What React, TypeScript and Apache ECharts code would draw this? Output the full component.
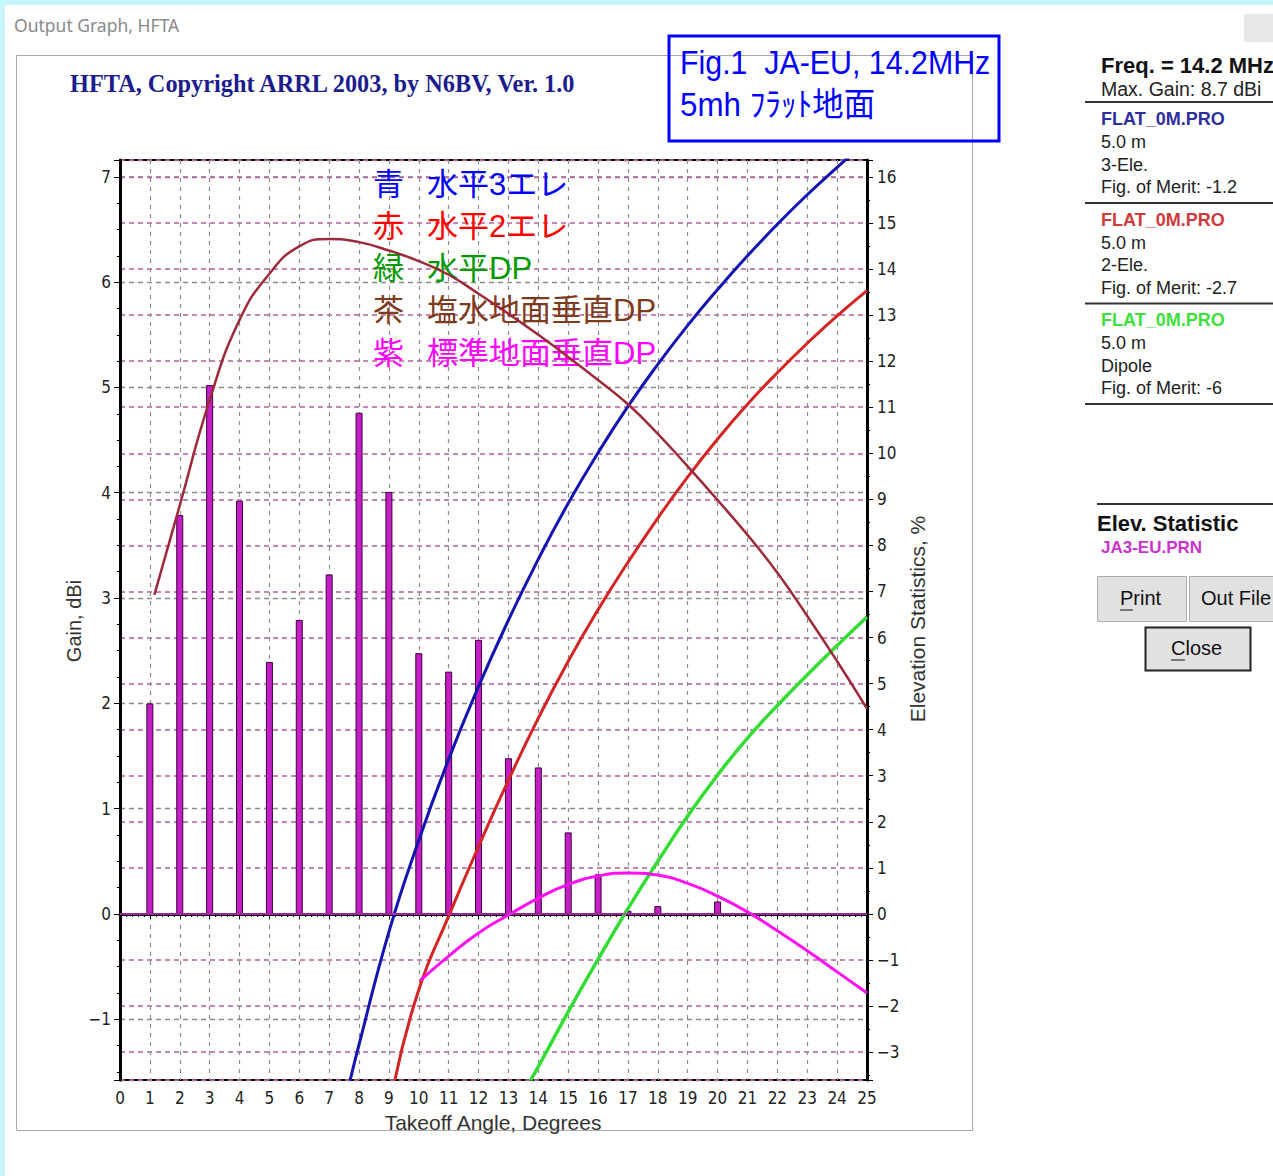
import React, { useEffect, useRef } from "react";
import * as echarts from "echarts";

// Elevation statistics (%), right axis
const statAngles = [1, 2, 3, 4, 5, 6, 7, 8, 9, 10, 11, 12, 13, 14, 15, 16, 17, 18, 19, 20];
const statPercent = [4.57, 8.66, 11.48, 8.97, 5.47, 6.38, 7.37, 10.88, 9.16, 5.66, 5.26, 5.95, 3.38, 3.18, 1.77, 0.86, 0.07, 0.17, 0, 0.27];

// Gain curves (dBi), left axis
const blueAngles = [7.7, 8, 9, 10, 11, 12, 13, 14, 15, 16, 17, 18, 19, 20, 21, 22, 23, 24, 24.6];
const blueGain = [-1.58, -1.24, -0.17, 0.7, 1.47, 2.16, 2.79, 3.37, 3.9, 4.38, 4.82, 5.22, 5.59, 5.93, 6.25, 6.55, 6.83, 7.09, 7.24];

const redAngles = [9.2, 10, 11, 12, 13, 14, 15, 16, 17, 18, 19, 20, 21, 22, 23, 24, 25];
const redGain = [-1.58, -0.72, -0.02, 0.64, 1.27, 1.86, 2.4, 2.89, 3.34, 3.76, 4.15, 4.51, 4.84, 5.14, 5.42, 5.68, 5.92];

const greenAngles = [13.74, 14, 15, 16, 17, 18, 19, 20, 21, 22, 23, 24, 25];
const greenGain = [-1.58, -1.45, -0.93, -0.43, 0.05, 0.5, 0.93, 1.32, 1.67, 1.98, 2.27, 2.55, 2.82];

const brownAngles = [1.15, 2, 3, 4, 5, 6, 7, 8, 9, 10, 11, 12, 13, 14, 15, 16, 17, 18, 19, 20, 21, 22, 23, 24, 25];
const brownGain = [3.03, 3.88, 4.88, 5.64, 6.08, 6.34, 6.41, 6.38, 6.3, 6.2, 6.07, 5.89, 5.7, 5.5, 5.29, 5.07, 4.84, 4.56, 4.25, 3.93, 3.6, 3.24, 2.83, 2.4, 1.95];

const magentaAngles = [10.05, 11, 12, 13, 14, 15, 16, 17, 18, 19, 20, 21, 22, 23, 24, 25];
const magentaGain = [-0.63, -0.4, -0.18, -0.01, 0.15, 0.28, 0.36, 0.39, 0.37, 0.29, 0.17, 0.02, -0.16, -0.35, -0.55, -0.75];

// Axis ranges
const angleRange = [0, 25];
const gainRange = [-1.577, 7.16];
const statRange = [-3.605, 16.366];

const legendRows = [
  { key: "青", label: "水平3エレ", color: "#0000ff" },
  { key: "赤", label: "水平2エレ", color: "#ff0000" },
  { key: "緑", label: "水平DP", color: "#009a00" },
  { key: "茶", label: "塩水地面垂直DP", color: "#7e3a1c" },
  { key: "紫", label: "標準地面垂直DP", color: "#ff00ff" },
];

const panelBlocks = [
  { file: "FLAT_0M.PRO", color: "#2e2e9e", lines: ["5.0 m", "3-Ele.", "Fig. of Merit: -1.2"] },
  { file: "FLAT_0M.PRO", color: "#d03a3a", lines: ["5.0 m", "2-Ele.", "Fig. of Merit: -2.7"] },
  { file: "FLAT_0M.PRO", color: "#3ee03e", lines: ["5.0 m", "Dipole", "Fig. of Merit: -6"] },
];

const NARROW = '"Liberation Sans Narrow", "DejaVu Sans Condensed", "Arial Narrow", sans-serif';
const SANS = '"Liberation Sans", Arial, sans-serif';
const MIXED = '"Liberation Sans", "Noto Sans CJK JP", sans-serif';

const pairs = (xs: number[], ys: number[]) => xs.map((x, i) => [x, ys[i]]);

const intLabel = (v: number) => {
  const r = Math.round(v);
  if (Math.abs(v - r) > 1e-6) return "";
  return r < 0 ? "\u2212" + -r : String(r);
};

function buildGraphic() {
  const g: any[] = [];
  // window edges
  g.push({ type: "rect", shape: { x: 0, y: 0, width: 1273, height: 5 }, style: { fill: "#c8f7fb" } });
  g.push({ type: "rect", shape: { x: 0, y: 0, width: 5, height: 1176 }, style: { fill: "#c8f7fb" } });
  g.push({ type: "text", x: 14, y: 25, style: { text: "Output Graph, HFTA", fill: "#8a8a8a", font: '17.5px "Noto Sans", sans-serif', textAlign: "left", textVerticalAlign: "middle" } });
  g.push({ type: "rect", shape: { x: 1244, y: 14, width: 30, height: 28 }, style: { fill: "#e8e8e8" } });
  // chart frame
  g.push({ type: "rect", shape: { x: 16.5, y: 55.5, width: 956, height: 1075 }, style: { fill: "none", stroke: "#a8a8a8", lineWidth: 1 } });
  // header
  g.push({ type: "text", x: 70, y: 83, style: { text: "HFTA, Copyright ARRL 2003, by N6BV, Ver. 1.0", fill: "#1c1c8c", font: 'bold 24.3px "Liberation Serif", "Times New Roman", serif', textAlign: "left", textVerticalAlign: "middle" } });
  // blue box
  g.push({ type: "rect", shape: { x: 669, y: 36, width: 330, height: 105 }, style: { fill: "none", stroke: "#0000ff", lineWidth: 3 } });
  g.push({ type: "text", x: 680, y: 63, scaleX: 0.92, style: { text: "Fig.1\u00a0\u00a0JA-EU, 14.2MHz", fill: "#0000ff", font: `33px ${SANS}`, textAlign: "left", textVerticalAlign: "middle" } });
  g.push({ type: "text", x: 680, y: 105, scaleX: 0.95, style: { text: "5mh ﾌﾗｯﾄ地面", fill: "#0000ff", font: `33px ${MIXED}`, textAlign: "left", textVerticalAlign: "middle" } });
  // legend inside plot
  legendRows.forEach((r, i) => {
    const y = 184 + i * 42.3;
    g.push({ type: "text", x: 373, y, z: 1, style: { text: r.key, fill: r.color, font: `31px ${MIXED}`, textAlign: "left", textVerticalAlign: "middle" } });
    g.push({ type: "text", x: 427, y, z: 1, style: { text: r.label, fill: r.color, font: `31px ${MIXED}`, textAlign: "left", textVerticalAlign: "middle" } });
  });
  // axis titles
  const titleFont = `21px ${SANS}`;
  g.push({ type: "text", x: 74, y: 621, rotation: Math.PI / 2, style: { text: "Gain, dBi", fill: "#333", font: `20px ${SANS}`, textAlign: "center", textVerticalAlign: "middle" } });
  g.push({ type: "text", x: 917, y: 619, rotation: Math.PI / 2, style: { text: "Elevation Statistics, %", fill: "#333", font: titleFont, textAlign: "center", textVerticalAlign: "middle" } });
  g.push({ type: "text", x: 493, y: 1122, style: { text: "Takeoff Angle, Degrees", fill: "#333", font: titleFont, textAlign: "center", textVerticalAlign: "middle" } });

  // right panel
  const tx = 1101;
  g.push({ type: "text", x: tx, y: 65, style: { text: "Freq. = 14.2 MHz", fill: "#111", font: `bold 22px ${SANS}`, textAlign: "left", textVerticalAlign: "middle" } });
  g.push({ type: "text", x: tx, y: 89, style: { text: "Max. Gain: 8.7 dBi", fill: "#222", font: `19.5px ${SANS}`, textAlign: "left", textVerticalAlign: "middle" } });
  g.push({ type: "line", shape: { x1: 1085, y1: 102, x2: 1273, y2: 102 }, style: { stroke: "#333", lineWidth: 2 } });
  panelBlocks.forEach((b, i) => {
    const y0 = 119 + i * 100.5;
    g.push({ type: "text", x: tx, y: y0, style: { text: b.file, fill: b.color, font: `bold 18px ${SANS}`, textAlign: "left", textVerticalAlign: "middle" } });
    b.lines.forEach((t, j) => {
      g.push({ type: "text", x: tx, y: y0 + 23 + j * 22.5, style: { text: t, fill: "#222", font: `18px ${SANS}`, textAlign: "left", textVerticalAlign: "middle" } });
    });
    const ly = 203 + i * 100.5;
    g.push({ type: "line", shape: { x1: 1085, y1: ly, x2: 1273, y2: ly }, style: { stroke: "#333", lineWidth: 2 } });
  });
  g.push({ type: "line", shape: { x1: 1097, y1: 504, x2: 1273, y2: 504 }, style: { stroke: "#333", lineWidth: 2 } });
  g.push({ type: "text", x: 1097, y: 523, style: { text: "Elev. Statistic", fill: "#111", font: `bold 22px ${SANS}`, textAlign: "left", textVerticalAlign: "middle" } });
  g.push({ type: "text", x: tx, y: 547, style: { text: "JA3-EU.PRN", fill: "#cc33cc", font: `bold 17px ${SANS}`, textAlign: "left", textVerticalAlign: "middle" } });
  // buttons
  g.push({ type: "rect", shape: { x: 1097.5, y: 576.5, width: 89, height: 45 }, style: { fill: "#e1e1e1", stroke: "#adadad", lineWidth: 1 } });
  g.push({ type: "text", x: 1120, y: 598, style: { text: "Print", fill: "#111", font: `20px ${SANS}`, textAlign: "left", textVerticalAlign: "middle" } });
  g.push({ type: "line", shape: { x1: 1120, y1: 610, x2: 1133, y2: 610 }, style: { stroke: "#111", lineWidth: 1 } });
  g.push({ type: "rect", shape: { x: 1189.5, y: 576.5, width: 100, height: 45 }, style: { fill: "#e1e1e1", stroke: "#adadad", lineWidth: 1 } });
  g.push({ type: "text", x: 1201, y: 598, style: { text: "Out File", fill: "#111", font: `20px ${SANS}`, textAlign: "left", textVerticalAlign: "middle" } });
  g.push({ type: "rect", shape: { x: 1145.5, y: 627.5, width: 105, height: 43 }, style: { fill: "#e1e1e1", stroke: "#222", lineWidth: 2 } });
  g.push({ type: "text", x: 1171, y: 648, style: { text: "Close", fill: "#111", font: `20px ${SANS}`, textAlign: "left", textVerticalAlign: "middle" } });
  g.push({ type: "line", shape: { x1: 1171, y1: 660, x2: 1185, y2: 660 }, style: { stroke: "#111", lineWidth: 1 } });
  return g;
}

export default function App() {
  const ref = useRef<HTMLDivElement>(null);
  useEffect(() => {
    document.body.style.margin = "0";
    const chart = echarts.init(ref.current!, null, { renderer: "svg" });
    const labelStyle = { fontSize: 17, fontFamily: NARROW, color: "#222" };
    const lineCommon = { type: "line", yAxisIndex: 0, smooth: 0.5, showSymbol: false };
    const option: any = {
      animation: false,
      backgroundColor: "#ffffff",
      grid: { left: 120, top: 160, width: 747, height: 920, show: true, borderColor: "#000", borderWidth: 2, backgroundColor: "transparent" },
      xAxis: {
        type: "value",
        min: angleRange[0],
        max: angleRange[1],
        interval: 1,
        axisLine: { show: true, lineStyle: { color: "#000", width: 3 } },
        axisTick: { show: true, inside: false, length: 5, lineStyle: { color: "#000" } },
        minorTick: { show: true, splitNumber: 5, length: 3, lineStyle: { color: "#000" } },
        axisLabel: { ...labelStyle, margin: 9, formatter: intLabel },
        splitLine: { show: true, lineStyle: { color: "#8c8c8c", type: [4, 5], width: 1.2 } },
      },
      yAxis: [
        {
          type: "value",
          position: "left",
          min: gainRange[0],
          max: gainRange[1],
          splitNumber: 9,
          minInterval: 1,
          maxInterval: 1,
          axisLine: { show: true, onZero: false, lineStyle: { color: "#000", width: 3 } },
          axisTick: { show: true, inside: false, length: 6, lineStyle: { color: "#000" } },
          minorTick: { show: true, splitNumber: 4, length: 3, lineStyle: { color: "#000" } },
          axisLabel: { ...labelStyle, margin: 9, formatter: intLabel },
          splitLine: { show: true, lineStyle: { color: "#8a8a8a", type: [5, 4], width: 1.3 } },
        },
        {
          type: "value",
          position: "right",
          min: statRange[0],
          max: statRange[1],
          splitNumber: 20,
          minInterval: 1,
          maxInterval: 1,
          axisLine: { show: true, onZero: false, lineStyle: { color: "#000", width: 3 } },
          axisTick: { show: true, inside: false, length: 6, lineStyle: { color: "#000" } },
          minorTick: { show: true, splitNumber: 2, length: 3, lineStyle: { color: "#000" } },
          axisLabel: { ...labelStyle, margin: 10, formatter: intLabel },
          splitLine: { show: true, lineStyle: { color: "#b4609f", type: [5, 4], width: 1.5 } },
        },
      ],
      series: [
        {
          type: "bar",
          yAxisIndex: 1,
          barWidth: 7,
          data: statAngles.map((a, i) => [a, statPercent[i]]).filter((d) => d[1] > 0),
          itemStyle: { color: "#c41fc4", borderColor: "#3c003c", borderWidth: 1 },
          markLine: {
            silent: true,
            symbol: "none",
            label: { show: false },
            lineStyle: { color: "#cc33cc", width: 1.5, type: "solid" },
            data: [{ yAxis: 0 }],
          },
        },
        { ...lineCommon, data: pairs(blueAngles, blueGain), lineStyle: { color: "#1414b4", width: 3 } },
        { ...lineCommon, data: pairs(redAngles, redGain), lineStyle: { color: "#d42424", width: 3 } },
        { ...lineCommon, data: pairs(greenAngles, greenGain), lineStyle: { color: "#33dd33", width: 3.5 } },
        { ...lineCommon, data: pairs(brownAngles, brownGain), lineStyle: { color: "#9c2a3a", width: 2.5 } },
        { ...lineCommon, data: pairs(magentaAngles, magentaGain), lineStyle: { color: "#ff10f0", width: 3 } },
      ],
      graphic: buildGraphic(),
    };
    chart.setOption(option);
    return () => chart.dispose();
  }, []);
  return <div ref={ref} style={{ width: 1273, height: 1176 }} />;
}
